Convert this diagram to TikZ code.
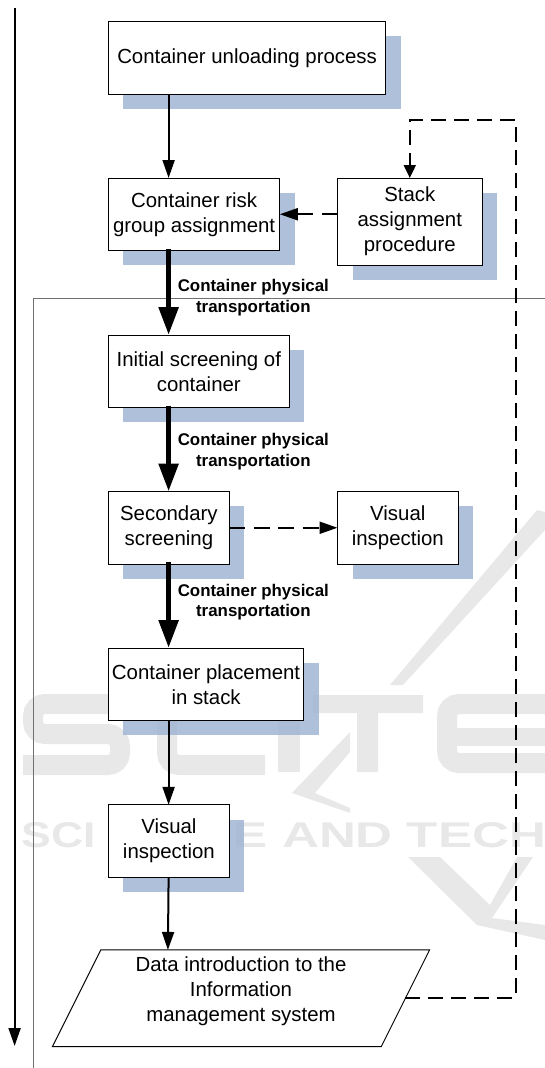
\documentclass[tikz,border=0pt]{standalone}
\usepackage{fontspec}
\usepackage{xcolor}
\setmainfont{Liberation Sans}
\usetikzlibrary{arrows.meta,positioning,shadows,shapes.geometric}
\definecolor{shadowblue}{RGB}{161,182,211}
\definecolor{markgray}{RGB}{232,232,232}
\definecolor{framegray}{RGB}{112,112,112}

\begin{document}
\begin{tikzpicture}[x = 1pt, y = -1pt,
    stage/.style = {draw, fill = white, line width = 1pt, inner sep = 0pt, outer sep = 0pt, align = center,
        minimum height = 72.5pt, font = \fontsize{20.4}{25}\selectfont,
        drop shadow = {shadow xshift = 15pt, shadow yshift = -14.7pt, fill = shadowblue, opacity = 0.85}},
    thin flow/.style = {-{Triangle[length = 18pt, width = 12pt]}, line width = 2pt},
    heavy flow/.style = {-{Triangle[length = 28pt, width = 19pt]}, line width = 5.5pt, shorten <= -2pt},
    dash flow/.style = {-{Triangle[length = 18pt, width = 12pt]}, line width = 2pt, dash pattern = on 16pt off 8.4pt},
    loop flow/.style = {-{Triangle[length = 13pt, width = 12pt]}, line width = 2pt, dash pattern = on 15pt off 8pt},
    move label/.style = {right, inner sep = 0pt, xshift = 6.4pt, yshift = -2pt, align = center, font = \fontsize{16.9}{20.8}\selectfont\bfseries},
    watermark/.style = {inner sep = 0pt, text = markgray},
    mark stroke/.style = {markgray, line width = 20pt, rounded corners = 12pt}]
    \useasboundingbox (0, 0) rectangle (545, 1068);

    \draw [mark stroke] (130, 704) -- (33, 704) -- (33, 734) -- (120, 734) -- (120, 765) -- (23, 765);
    \draw [mark stroke] (265, 704) -- (167, 704) -- (167, 765) -- (265, 765);
    \fill [markgray] (278, 695) rectangle (300, 772);
    \fill [markgray] (313, 695) rectangle (423, 713) (357, 695) rectangle (378, 772);
    \draw [mark stroke] (545, 704) -- (447, 704) -- (447, 763) -- (545, 763);
    \fill [markgray] (447, 728) rectangle (545, 746);
    \fill [markgray] (537, 510) -- (545, 512) -- (545, 530) -- (403, 685) -- (390, 685) -- cycle;
    \fill [markgray] (350, 732) -- (350, 752) -- (315, 793) -- (350, 808) -- (350, 813) -- (292, 793) -- cycle;
    \fill [markgray] (408, 857) -- (440, 857) -- (490, 905) -- (517, 857) -- (533, 857) -- (492, 918) -- (545, 925) -- (545, 940) -- (477, 925) -- cycle;
    \node [watermark] (marksci) at (59, 835) {\resizebox{74pt}{25pt}{\bfseries SCI}};
    \node [watermark] (marktech) at (390, 835) {\resizebox{312pt}{25pt}{\bfseries E AND TECH}};

    \coordinate (axistop) at (14.6, 8);
    \coordinate (axisend) at (14.6, 1046);
    \coordinate (framefoot) at (33.7, 1068);
    \coordinate (framecorner) at (33.7, 298.5);
    \coordinate (frameend) at (545, 298.5);
    \coordinate (flow) at (168.6, 0);
    \coordinate (loop) at (515.5, 120);

    \draw [thin flow] (axistop) -- (axisend);
    \draw [framegray, line width = 1pt] (framefoot) -- (framecorner) -- (frameend);

    \node [stage, anchor = north west, minimum width = 277.4pt] (U) at (108.4, 21.5) {Container unloading process};
    \node [stage, minimum width = 171.4pt, below = 84pt of U.south west, anchor = north west] (R) {Container risk\\group assignment};
    \node [stage, minimum width = 144.6pt, minimum height = 87pt, right = 57.7pt of R.north east, anchor = north west] (T) {Stack\\assignment\\procedure};
    \node [stage, minimum width = 180.8pt, below = 84.5pt of R.south west, anchor = north west] (I) {Initial screening of\\container};
    \node [stage, minimum width = 121pt, below = 84pt of I.south west, anchor = north west] (S) {Secondary\\screening};
    \node [stage, minimum width = 120.6pt, right = 108.1pt of S.north east, anchor = north west] (V) {Visual\\inspection};
    \node [stage, minimum width = 195.4pt, below = 84pt of S.south west, anchor = north west] (P) {Container placement\\in stack};
    \node [stage, minimum width = 121pt, below = 84.3pt of P.south west, anchor = north west] (W) {Visual\\inspection};
    \node [draw, fill = white, line width = 1pt, inner sep = 0pt, outer sep = 0pt, transform shape, xslant = 0.5,
        minimum width = 328.8pt, minimum height = 96.7pt] (D) at (241, 998.3) {};
    \node [inner sep = 0pt, align = center, font = \fontsize{20.4}{25}\selectfont] (Dtext) at (241, 991) {Data introduction to the\\Information\\management system};

    \path
        (flow |- U.south) edge [thin flow] (flow |- R.north)
        (flow |- R.south) edge [heavy flow] node[move label, pos = 0.53] {Container physical\\transportation} (flow |- I.north)
        (flow |- I.south) edge [heavy flow] node[move label, pos = 0.5] {Container physical\\transportation} (flow |- S.north)
        (flow |- S.south) edge [heavy flow] node[move label, pos = 0.43] {Container physical\\transportation} (flow |- P.north)
        (flow |- P.south) edge [thin flow] (flow |- W.north)
        (flow |- W.south) edge [thin flow] ([xshift = -0.7pt]flow |- D.north)
        (T.west |- R.east) edge [dash flow] (R.east)
        (S) edge [dash flow] (V);
    \draw [loop flow] (D.east) -| (loop) -| (T.north);
\end{tikzpicture}
\end{document}
